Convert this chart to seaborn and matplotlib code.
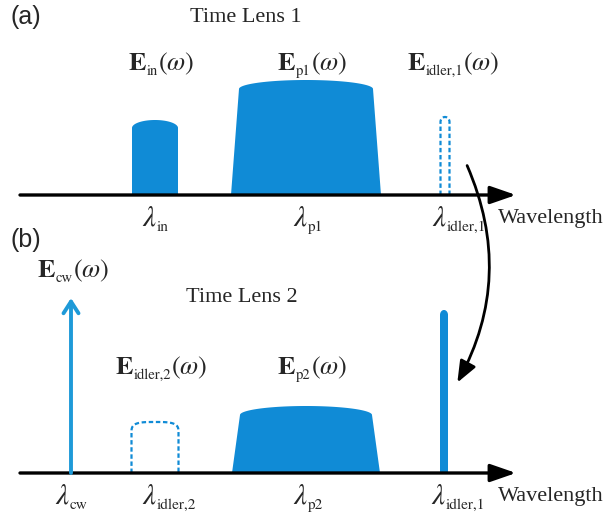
import numpy as np
import matplotlib.pyplot as plt
import seaborn as sns
from matplotlib.patches import FancyArrowPatch

# spectral components, positions along the wavelength axis (drawing units)
subs_a = ['in', 'p1', 'idler,1']
centers_a = [155, 306, 445]
widths_a = [46, 150, 9]
heights_a = [75, 115, 78]
dashed_a = [False, False, True]

subs_b = ['idler,2', 'p2', 'idler,1']
label_b = [True, True, False]
centers_b = [155, 306, 444]
widths_b = [47, 148, 8]
heights_b = [51, 67, 163]
dashed_b = [True, False, False]
cw_center = 71
cw_height = 175

BLUE = '#108BD6'
CW_BLUE = '#1E9AD8'

sns.set_theme(style="white")
plt.rcParams['mathtext.fontset'] = 'stix'


def pulse(c, w, h, cap, slant=0.0, n=2.0):
    # outline of a spectral pulse with a rounded top
    a = w / 2 - slant
    t = np.linspace(np.pi, 0, 120)
    ct, st = np.cos(t), np.sin(t)
    xs = c + a * np.sign(ct) * np.abs(ct) ** (2 / n)
    ys = h - cap + cap * np.abs(st) ** (2 / n)
    x = np.concatenate([[c - w / 2], xs, [c + w / 2]])
    y = np.concatenate([[0], ys, [0]])
    return x, y


fig = plt.figure(figsize=(6.10, 5.13), dpi=100)
ax = fig.add_axes([0, 0, 1, 1])
ax.set_xlim(0, 610)
ax.set_ylim(513, 0)
ax.axis('off')
renderer = fig.canvas.get_renderer()


def compound(x, y, pieces, align='center'):
    # pieces: (text, size, dy); 1 data unit == 1 pixel here
    texts = []
    for s, size, dy in pieces:
        t = ax.text(0, y + dy, s, fontsize=size, family='STIXGeneral',
                    ha='left', va='baseline')
        texts.append(t)
    widths = [t.get_window_extent(renderer).width for t in texts]
    total = sum(widths)
    x0 = x - total / 2 if align == 'center' else x
    for t, w in zip(texts, widths):
        t.set_x(x0)
        x0 += w


def e_label(x, y, sub):
    compound(x, y, [(r'$\mathbf{E}$', 19, 0), (sub, 10.5, 5), (r'$(\omega)$', 19, 0)])


def lam_label(x, y, sub):
    compound(x, y, [(r'$\lambda$', 21, 0), (sub, 11, 5)], align='left')


panels = [
    (195, subs_a, centers_a, widths_a, heights_a, dashed_a, [True] * 3, 70, 226),
    (473, subs_b, centers_b, widths_b, heights_b, dashed_b, label_b, 374, 504),
]
for base, subs, cs, ws, hs, ds, show, ly, ty in panels:
    for c, w, h, d in zip(cs, ws, hs, ds):
        if w > 100:
            x, y = pulse(c, w, h, 9, slant=8)
        elif w > 20:
            x, y = pulse(c, w, h, 11 if d else 8, n=3.5 if d else 2.0)
        else:
            x, y = pulse(c, w, h, 5)
        if d:
            sns.lineplot(x=x, y=base - y, ax=ax, sort=False, estimator=None,
                         color=BLUE, lw=1.6, linestyle=(0, (2.0, 1.2)))
        else:
            ax.fill(x, base - y, color=BLUE, lw=0)
    for c, s, sh in zip(cs, subs, show):
        if sh:
            e_label(c + 8 if c > 400 else c + 6, ly, s)
        lam_label(c - 13, ty, s)
    ax.annotate('', xy=(516, base), xytext=(20, base),
                arrowprops=dict(arrowstyle='-|>,head_length=1.3,head_width=0.45',
                                lw=2.4, color='black', shrinkA=0, shrinkB=0))
    ax.text(498, base + 23, 'Wavelength', fontsize=16, family='Liberation Serif',
            ha='left', va='center')

# cw line with open arrow head
ax.annotate('', xy=(cw_center, 473 - cw_height), xytext=(cw_center, 473),
            arrowprops=dict(arrowstyle='->,head_length=0.7,head_width=0.45',
                            lw=2.8, color=CW_BLUE, shrinkA=0, shrinkB=0))
e_label(cw_center + 2, 277, 'cw')
lam_label(cw_center - 16, 504, 'cw')

# curved transfer arrow from (a) to (b)
arc = FancyArrowPatch((466, 163), (456, 385), connectionstyle='arc3,rad=-0.25',
                      arrowstyle='-|>,head_length=6.5,head_width=2.6', lw=2.0,
                      color='black', mutation_scale=2)
ax.add_patch(arc)

ax.text(246, 17, 'Time Lens 1', fontsize=16, family='Liberation Serif', ha='center', va='center')
ax.text(242, 297, 'Time Lens 2', fontsize=16, family='Liberation Serif', ha='center', va='center')
ax.text(10, 17, '(a)', fontsize=18, family='Liberation Sans', ha='left', va='center')
ax.text(10, 240, '(b)', fontsize=18, family='Liberation Sans', ha='left', va='center')

fig.savefig('out.png', dpi=100)
